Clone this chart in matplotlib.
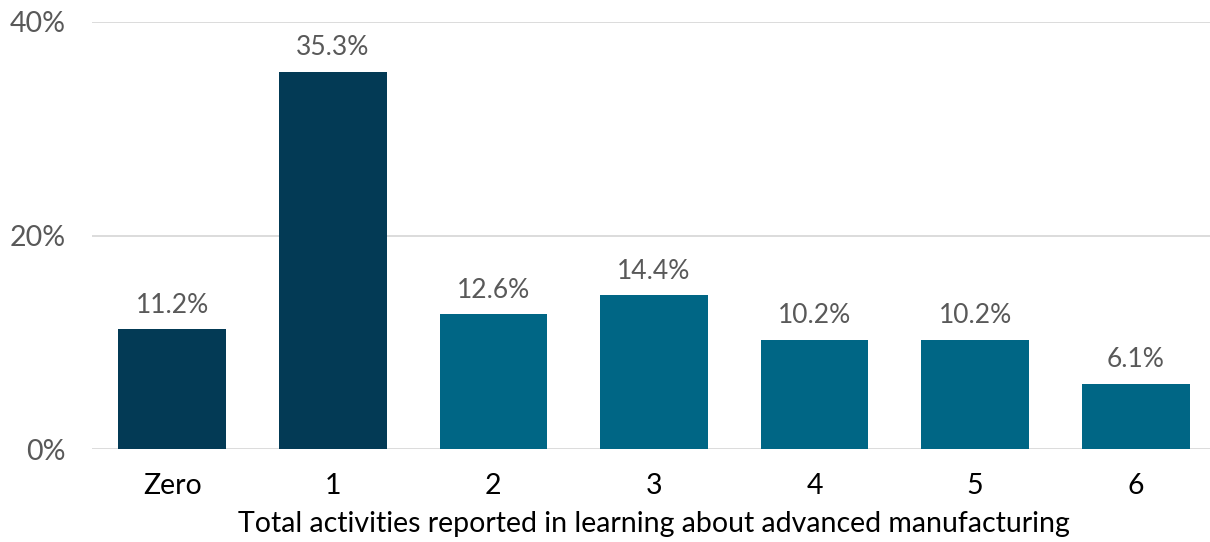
import matplotlib
matplotlib.use("Agg")
import matplotlib.pyplot as plt

categories = ["Zero", "1", "2", "3", "4", "5", "6"]
values = [11.2, 35.3, 12.6, 14.4, 10.2, 10.2, 6.1]
colors = ["#033a55", "#033a55", "#006685", "#006685", "#006685", "#006685", "#006685"]
yticks = [0, 20, 40]
xlabel = "Total activities reported in learning about advanced manufacturing"

plt.rcParams['font.family'] = ['Lato', 'DejaVu Sans']

fig = plt.figure(figsize=(12.10, 5.42), dpi=100)
ax = fig.add_axes([92/1210, (542-449)/542, (1216-92)/1210, (449-22)/542])

x = list(range(len(categories)))
ax.bar(x, values, width=0.67, color=colors, zorder=3)
for xi, v in zip(x, values):
    ax.text(xi, v + 1.1, f"{v:.1f}%", ha="center", va="bottom", fontsize=19, color="#595959")

ax.set_xlim(-0.5, 6.5)
ax.set_ylim(0, 40)
ax.set_yticks(yticks)
ax.set_yticklabels([f"{t}%" for t in yticks], fontsize=20.5, color="#595959")
ax.set_xticks(x)
ax.set_xticklabels(categories, fontsize=20.5, color="black")
ax.tick_params(axis="both", length=0)
ax.tick_params(axis="x", pad=17)
ax.tick_params(axis="y", pad=19)
ax.grid(axis="y", color="#d9d9d9", linewidth=1.3, zorder=0)
for s in ax.spines.values():
    s.set_visible(False)
ax.set_xlabel(xlabel, fontsize=20.5, color="black", labelpad=9)

fig.savefig("out.png", dpi=100)
